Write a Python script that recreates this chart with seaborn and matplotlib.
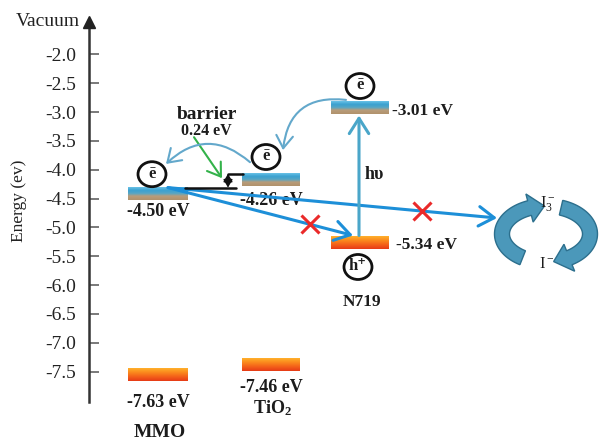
import numpy as np
import matplotlib
matplotlib.use("Agg")
import matplotlib.pyplot as plt
from matplotlib.colors import LinearSegmentedColormap
from matplotlib.patches import Ellipse, FancyArrowPatch, Polygon
import seaborn as sns

# Band-edge energies (eV vs vacuum)
materials = ["MMO", "TiO$_2$", "N719"]
cb_levels = [-4.50, -4.26, -3.01]   # conduction band / LUMO
vb_levels = [-7.63, -7.46, -5.34]   # valence band / HOMO
barrier_ev = 0.24
tick_values = [-2.0, -2.5, -3.0, -3.5, -4.0, -4.5, -5.0, -5.5, -6.0, -6.5, -7.0, -7.5]
tick_labels = [f"{v:.1f}" for v in tick_values]

sns.set_theme(style="white")
plt.rcParams["font.family"] = ["Liberation Serif", "DejaVu Serif"]
plt.rcParams["mathtext.fontset"] = "custom"
plt.rcParams["mathtext.rm"] = "Liberation Serif"
plt.rcParams["mathtext.bf"] = "Liberation Serif:bold"
plt.rcParams["mathtext.it"] = "Liberation Serif:italic"

W, H = 603, 441
fig = plt.figure(figsize=(W / 100, H / 100), dpi=100)
fig.patch.set_facecolor("white")
ax = fig.add_axes([0, 0, 1, 1])

# horizontal axis in pixel-like units, vertical axis in eV
px_per_ev = 57.7
y_top = -2.0 + 54.3 / px_per_ev
y_bot = -2.0 - (H - 54.3) / px_per_ev


def row_to_ev(row):
    """Convert a pixel row (from the top) into the energy scale."""
    return -2.0 - (np.asarray(row) - 54.3) / px_per_ev


col_left = [128, 242, 331]
col_right = [188, 300, 389]
bar_lo, bar_hi = -0.03, 0.19   # bar thickness around each level

cb_cmap = LinearSegmentedColormap.from_list(
    "cb", [(0.0, "#b0926c"), (0.3, "#b99d7a"), (0.5, "#58a6c4"),
           (0.75, "#3aa1d0"), (1.0, "#6ac2e6")])
vb_cmap = LinearSegmentedColormap.from_list(
    "vb", [(0.0, "#e63b16"), (0.35, "#f4621a"), (0.7, "#fb8d1e"), (1.0, "#ffb02c")])
grad = np.linspace(0, 1, 64).reshape(-1, 1)

dark = "#1c1c1c"
for i in range(3):
    for lvl, cmap in ((cb_levels[i], cb_cmap), (vb_levels[i], vb_cmap)):
        ax.imshow(grad, extent=[col_left[i], col_right[i], lvl + bar_lo, lvl + bar_hi],
                  origin="lower", aspect="auto", cmap=cmap, zorder=2,
                  interpolation="bilinear")

bold = dict(fontweight="bold", color=dark, ha="center", va="center")

# level values
ax.text(158, cb_levels[0] - 0.22, f"{cb_levels[0]:.2f} eV", fontsize=13, **bold)
ax.text(271, cb_levels[1] - 0.28, f"{cb_levels[1]:.2f} eV", fontsize=13, **bold)
ax.text(392, cb_levels[2] + 0.03, f"{cb_levels[2]:.2f} eV", fontsize=12.5,
        fontweight="bold", color=dark, ha="left", va="center")
ax.text(396, vb_levels[2] + 0.03, f"{vb_levels[2]:.2f} eV", fontsize=12.5,
        fontweight="bold", color=dark, ha="left", va="center")
ax.text(158, vb_levels[0] - 0.41, f"{vb_levels[0]:.2f} eV", fontsize=13, **bold)
ax.text(271, vb_levels[1] - 0.32, f"{vb_levels[1]:.2f} eV", fontsize=13, **bold)

# material names
ax.text(160, -8.56, "MMO", fontsize=14, **bold)
ax.text(272, -8.13, r"$\mathbf{TiO_2}$", fontsize=13, **bold)
ax.text(362, -6.30, "N719", fontsize=12.5, **bold)

# carrier circles
circles = [(152, -4.078, "ē"), (266, -3.78, "ē"), (360, -2.55, "ē"), (358, -5.686, "h⁺")]
for cx, cy, s in circles:
    ax.add_patch(Ellipse((cx, cy), 28, 25 / px_per_ev, fc="white", ec="#111111",
                         lw=2.0, zorder=5))
    ax.text(cx, cy + 0.01, s, fontsize=12, zorder=6, **bold)

# electron injection / transfer paths
blue = "#1d8fd8"
start = (168, cb_levels[0] + bar_hi)
end_redox = (497, -4.837)
end_dye = (353, vb_levels[2] + 0.2)
for end in (end_redox, end_dye):
    ax.add_patch(FancyArrowPatch(start, end, arrowstyle="->,head_length=0.55,head_width=0.35",
                                 mutation_scale=20, lw=2.2, color=blue, zorder=3,
                                 shrinkA=0, shrinkB=0))

# blocked recombination marks
for end, frac in ((end_dye, 0.768), (end_redox, 0.772)):
    mx = start[0] + frac * (end[0] - start[0])
    my = start[1] + frac * (end[1] - start[1])
    ax.plot(mx, my, marker="x", ms=13, mew=2.2, color="#ea2a2a", zorder=6)

# photo-excitation of the dye
ax.add_patch(FancyArrowPatch((359, vb_levels[2] + 0.2), (359, cb_levels[2] + bar_lo - 0.02),
                             arrowstyle="->,head_length=0.55,head_width=0.35",
                             mutation_scale=20, lw=2.2, color="#4aa6c9", zorder=3,
                             shrinkA=0, shrinkB=0))
ax.text(374, -4.09, "hυ", fontsize=13, **bold)

# interfacial barrier between MMO and TiO2
low = cb_levels[0] + bar_hi
high = cb_levels[1] + bar_hi
ax.plot([185, 236], [low, low], color="#111111", lw=1.8, zorder=4)
ax.plot([228, 243], [high, high], color="#111111", lw=1.8, zorder=4)
ax.add_patch(FancyArrowPatch((228, low), (228, high),
                             arrowstyle="<|-|>,head_length=0.6,head_width=0.35",
                             mutation_scale=8, lw=1.0, color="#111111", zorder=4,
                             shrinkA=0, shrinkB=0))
ax.text(207, -3.05, "barrier", fontsize=14, **bold)
ax.text(206, -3.33, f"{barrier_ev:.2f} eV", fontsize=11.5, **bold)
ax.add_patch(FancyArrowPatch((194, -3.437), (222, -4.147),
                             arrowstyle="->,head_length=0.45,head_width=0.3",
                             mutation_scale=20, lw=1.5, color="#33b24a", zorder=4,
                             shrinkA=0, shrinkB=0))

# electron hopping arcs
arc = "#63a8cb"
ax.add_patch(FancyArrowPatch((250, -3.87), (166, -3.90), connectionstyle="arc3,rad=0.45",
                             arrowstyle="->,head_length=0.45,head_width=0.3",
                             mutation_scale=20, lw=1.5, color=arc, zorder=4,
                             shrinkA=0, shrinkB=0))
ax.add_patch(FancyArrowPatch((346, -2.79), (283, -3.66), connectionstyle="arc3,rad=0.5",
                             arrowstyle="->,head_length=0.45,head_width=0.3",
                             mutation_scale=20, lw=1.5, color=arc, zorder=4,
                             shrinkA=0, shrinkB=0))


# iodide / triiodide redox cycle: two ribbon arrows on an ellipse
def ribbon_arrow(t0, t1, t_tip, cx=546.0, cy=234.0, a=44.0, b=28.0,
                 half_w=7.5, head_half_w=14.5):
    t = np.radians(np.linspace(t0, t1, 60))
    px = cx + a * np.cos(t)
    py = cy + b * np.sin(t)
    nx, ny = b * np.cos(t), a * np.sin(t)
    nn = np.hypot(nx, ny)
    nx, ny = nx / nn, ny / nn
    outer = np.column_stack([px + half_w * nx, py + half_w * ny])
    inner = np.column_stack([px - half_w * nx, py - half_w * ny])
    tt = np.radians(t_tip)
    tip = np.array([[cx + a * np.cos(tt), cy + b * np.sin(tt)]])
    head = np.array([[px[-1] + head_half_w * nx[-1], py[-1] + head_half_w * ny[-1]],
                     tip[0],
                     [px[-1] - head_half_w * nx[-1], py[-1] - head_half_w * ny[-1]]])
    pts = np.vstack([outer, head, inner[::-1]])
    pts[:, 1] = row_to_ev(pts[:, 1])
    return Polygon(pts, closed=True, fc="#4b98ba", ec="#2c6f8d", lw=1.0, zorder=3)


ax.add_patch(ribbon_arrow(122, 248, 268))
ax.add_patch(ribbon_arrow(290, 418, 440))
ax.text(548, -4.58, r"I$_3^-$", fontsize=12, color=dark, ha="center", va="center")
ax.text(547, -5.64, r"I$^-$", fontsize=12, color=dark, ha="center", va="center")

# energy axis
ax.set_xlim(0, W)
ax.set_ylim(y_bot, y_top)
ax.set_xticks([])
ax.set_yticks(tick_values)
ax.set_yticklabels(tick_labels)
for side in ("top", "right", "bottom"):
    ax.spines[side].set_visible(False)
ax.spines["left"].set_position(("data", 89))
ax.spines["left"].set_bounds(-8.026, -1.45)
ax.spines["left"].set_color("#333333")
ax.spines["left"].set_linewidth(1.8)
ax.tick_params(axis="y", direction="in", length=7, width=1.1, color="#555555",
               pad=9.5, labelsize=14, labelcolor="#222222", left=True)
ax.plot(89, -1.44, marker="^", ms=9, color="#222222", clip_on=False, zorder=6)
ax.text(80, -1.423, "Vacuum", fontsize=14, color="#222222", ha="right", va="center")
ax.set_facecolor("white")
ax.grid(False)

fig.text(19 / W, 1 - 201 / H, "Energy (ev)", rotation=90, fontsize=12.5,
         color="#222222", ha="center", va="center")

fig.savefig("out.png", dpi=100, facecolor="white")
